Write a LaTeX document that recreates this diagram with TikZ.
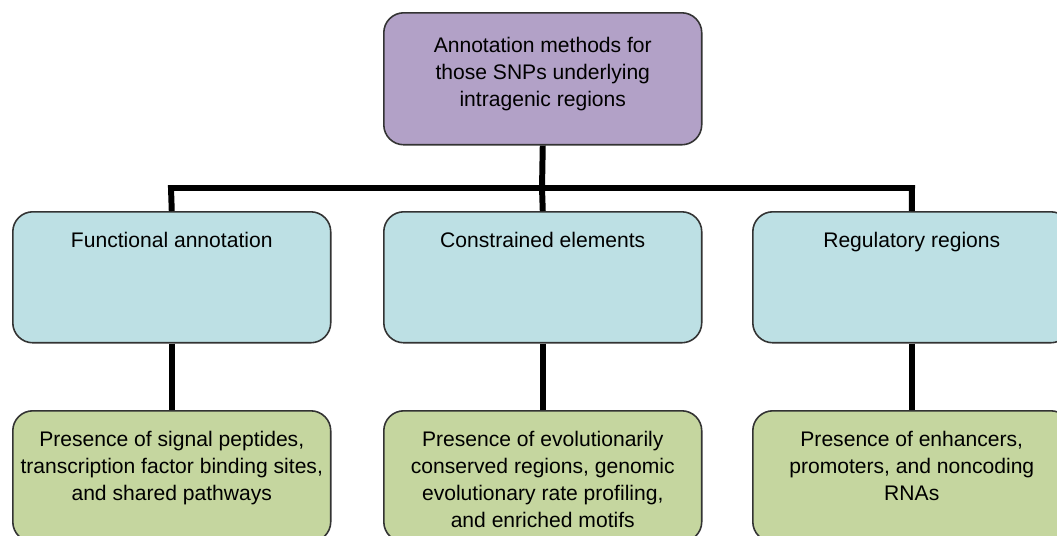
\documentclass[tikz,border=0pt]{standalone}
\usepackage{fontspec}
\setmainfont{Liberation Sans}
\usepackage{tikz}
\usepackage{xcolor}

\definecolor{headpurple}{RGB}{178,161,199}
\definecolor{midblue}{RGB}{189,224,228}
\definecolor{lowgreen}{RGB}{197,214,159}

\newcommand{\boxtext}[3]{\parbox[c][#1][t]{6.2cm}{\centering\vspace*{#2}#3}}

\begin{document}
\begin{tikzpicture}[x=0.02cm, y=-0.02cm,
    box/.style={draw=black!80, line width=0.9pt, rounded corners=0.4cm,
      inner sep=0pt, minimum width=6.36cm, anchor=north west,
      font=\fontsize{12}{15.4}\selectfont},
    link/.style={line width=3.4pt}]
        \useasboundingbox (0, 0) rectangle (1057, 535);
        \clip (0, 0) rectangle (1057, 535);
		\node[box, fill=headpurple] (1) at (383, 12) {\boxtext{2.64cm}{0.48cm}{Annotation methods for\\ those SNPs underlying\\ intragenic regions}};
		\node[box, fill=midblue] (2) at (12, 211) {\boxtext{2.62cm}{0.40cm}{Functional annotation}};
		\node[box, fill=midblue] (3) at (383, 211) {\boxtext{2.62cm}{0.40cm}{Constrained elements}};
		\node[box, fill=midblue] (4) at (752, 211) {\boxtext{2.62cm}{0.40cm}{Regulatory regions}};
		\node[box, fill=lowgreen] (5) at (12, 410) {\boxtext{2.62cm}{0.40cm}{Presence of signal peptides,\\ transcription factor binding sites,\\ and shared pathways}};
		\node[box, fill=lowgreen] (6) at (383, 410) {\boxtext{2.62cm}{0.40cm}{Presence of evolutionarily\\ conserved regions, genomic\\ evolutionary rate profiling,\\ and enriched motifs}};
		\node[box, fill=lowgreen] (7) at (752, 410) {\boxtext{2.62cm}{0.40cm}{Presence of enhancers,\\ promoters, and noncoding\\ RNAs}};
		\coordinate (8) at (171, 188);
		\coordinate (9) at (542, 188);
		\coordinate (10) at (912, 188);
		\draw[link] (1.south) to (9);
		\draw[link] (2.north) to (8) to (10) to (4.north);
		\draw[link] (9) to (3.north);
		\draw[link] (2.south) to (5.north);
		\draw[link] (3.south) to (6.north);
		\draw[link] (4.south) to (7.north);
    \end{tikzpicture}
\end{document}
